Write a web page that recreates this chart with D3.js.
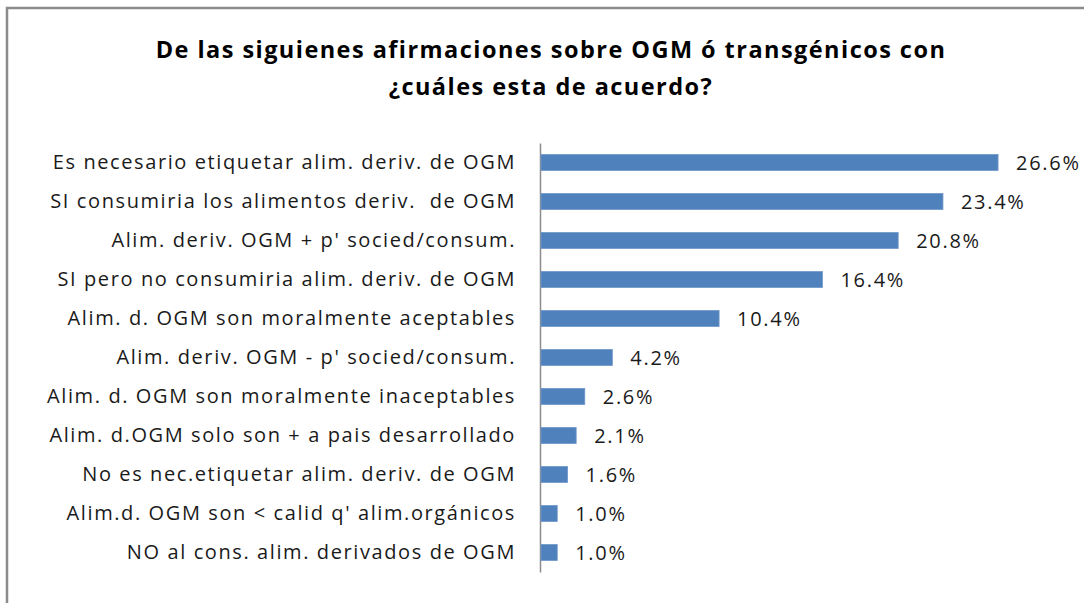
<!DOCTYPE html>
<html>
<head>
<meta charset="utf-8">
<script src="https://cdn.jsdelivr.net/npm/d3@7"></script>
<style>
  body { margin: 0; background: #fff; }
  text { font-family: "Open Sans", sans-serif; white-space: pre; }
</style>
</head>
<body>
<div id="chart"></div>
<script>
var categories = [
  "Es necesario etiquetar alim. deriv. de OGM",
  "SI consumiria los alimentos deriv.  de OGM",
  "Alim. deriv. OGM + p' socied/consum.",
  "SI pero no consumiria alim. deriv. de OGM",
  "Alim. d. OGM son moralmente aceptables",
  "Alim. deriv. OGM - p' socied/consum.",
  "Alim. d. OGM son moralmente inaceptables",
  "Alim. d.OGM solo son + a pais desarrollado",
  "No es nec.etiquetar alim. deriv. de OGM",
  "Alim.d. OGM son < calid q' alim.orgánicos",
  "NO al cons. alim. derivados de OGM"
];
var values = [26.6, 23.4, 20.8, 16.4, 10.4, 4.2, 2.6, 2.1, 1.6, 1.0, 1.0];
var title_lines = [
  "De las siguienes afirmaciones sobre OGM ó transgénicos con",
  "¿cuáles esta de acuerdo?"
];

var chart_width = 1084;
var chart_height = 603;

var svg = d3.select('#chart')
      .append('svg')
      .attr('width', chart_width)
      .attr('height', chart_height);

// frame (only top and left edges visible in the picture)
svg.append('path')
   .attr('d', 'M7,603 V8 H1084')
   .attr('fill', 'none')
   .attr('stroke', '#8c8c8c')
   .attr('stroke-width', 2.5);

// title
svg.append('g')
   .selectAll('text')
   .data(title_lines)
   .enter()
   .append('text')
   .attr('x', 551)
   .attr('y', function(d, i) { return 58 + i * 37; })
   .attr('text-anchor', 'middle')
   .attr('font-size', 23.5)
   .attr('font-weight', 'bold')
   .attr('letter-spacing', 1.45)
   .attr('fill', '#000')
   .text(function(d) { return d; });

// scales
var x_scale = d3.scaleLinear()
        .domain([0, 30])
        .range([540, 540 + 30 * 17.22]);

var y_scale = d3.scaleBand()
        .domain(categories)
        .range([143, 572])
        .paddingInner(0.59)
        .paddingOuter(0.295);

// category axis
var y_axis = d3.axisLeft(y_scale)
        .tickSize(0)
        .tickPadding(24);

var gy = svg.append('g')
   .attr('class', 'y-axis')
   .attr('transform', 'translate(540, 0)')
   .call(y_axis);

gy.select('.domain')
  .attr('stroke', '#8c8c8c')
  .attr('stroke-width', 1.5);

gy.selectAll('text')
  .attr('font-size', 20)
  .attr('letter-spacing', 1.6)
  .attr('fill', '#1a1a1a')
  .style('font-family', '"Open Sans", sans-serif');

// bars
svg.append('g')
   .selectAll('rect')
   .data(values)
   .enter()
   .append('rect')
   .attr('x', x_scale(0) + 1)
   .attr('y', function(d, i) { return y_scale(categories[i]); })
   .attr('width', function(d) { return x_scale(d) - x_scale(0) - 1; })
   .attr('height', y_scale.bandwidth())
   .attr('fill', '#4f81bd')
   .attr('stroke', '#6f97c9')
   .attr('stroke-width', 0.8);

// value labels
svg.append('g')
   .selectAll('text')
   .data(values)
   .enter()
   .append('text')
   .attr('x', function(d) { return x_scale(d) + 18; })
   .attr('y', function(d, i) { return y_scale(categories[i]) + y_scale.bandwidth() / 2; })
   .attr('dy', '0.35em')
   .attr('font-size', 20)
   .attr('letter-spacing', 1.7)
   .attr('fill', '#1a1a1a')
   .text(function(d) { return d.toFixed(1) + '%'; });
</script>
</body>
</html>
